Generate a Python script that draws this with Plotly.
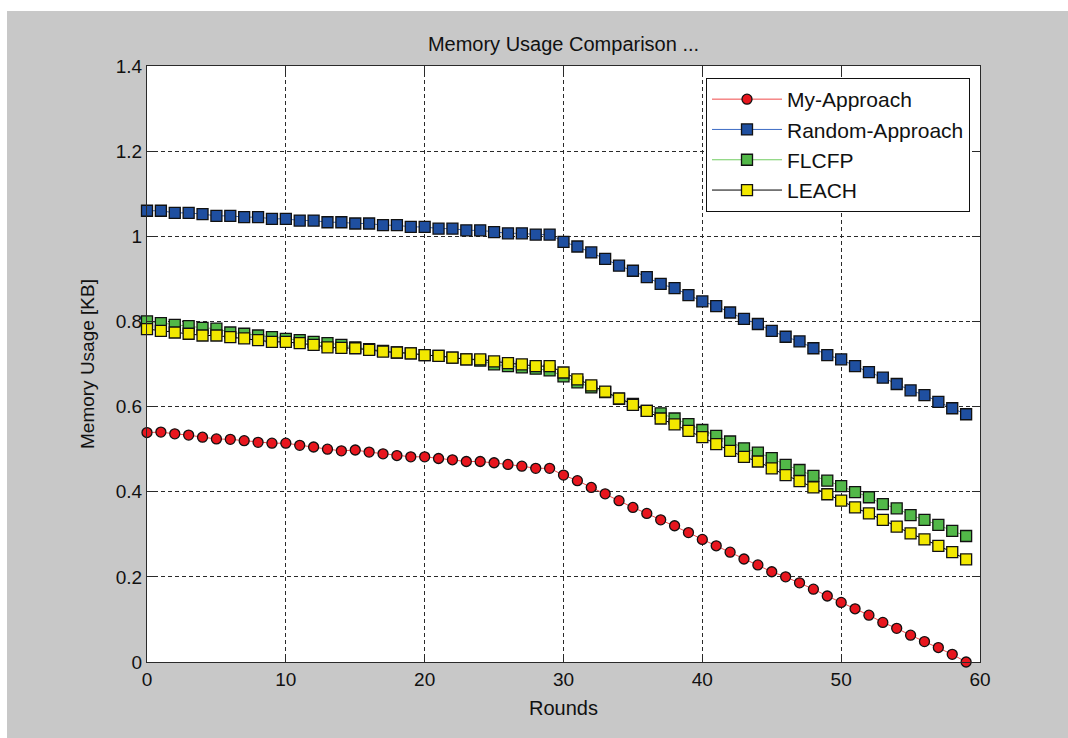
import plotly.graph_objects as go

# Simulation rounds
rounds = list(range(60))

# Memory usage per round [KB]
my_approach = [0.539, 0.540, 0.536, 0.533, 0.528, 0.524, 0.523, 0.520, 0.516, 0.514,
               0.514, 0.509, 0.505, 0.500, 0.496, 0.498, 0.493, 0.489, 0.485, 0.482,
               0.482, 0.478, 0.475, 0.471, 0.471, 0.468, 0.464, 0.460, 0.455, 0.455,
               0.439, 0.426, 0.410, 0.395, 0.379, 0.363, 0.349, 0.334, 0.320, 0.304,
               0.288, 0.273, 0.258, 0.242, 0.228, 0.212, 0.200, 0.186, 0.171, 0.155,
               0.140, 0.125, 0.110, 0.093, 0.079, 0.063, 0.048, 0.034, 0.018, 0.000]

random_approach = [1.060, 1.060, 1.055, 1.055, 1.052, 1.048, 1.048, 1.045, 1.045, 1.041,
                   1.041, 1.037, 1.037, 1.033, 1.033, 1.030, 1.030, 1.026, 1.026, 1.022,
                   1.022, 1.018, 1.018, 1.014, 1.014, 1.010, 1.007, 1.007, 1.004, 1.004,
                   0.987, 0.976, 0.962, 0.947, 0.931, 0.919, 0.904, 0.888, 0.878, 0.862,
                   0.847, 0.836, 0.821, 0.806, 0.794, 0.778, 0.764, 0.753, 0.737, 0.721,
                   0.711, 0.695, 0.681, 0.668, 0.653, 0.638, 0.627, 0.611, 0.596, 0.582]

flcfp = [0.800, 0.796, 0.792, 0.789, 0.785, 0.783, 0.774, 0.771, 0.767, 0.763,
         0.759, 0.756, 0.752, 0.749, 0.745, 0.739, 0.735, 0.731, 0.727, 0.725,
         0.721, 0.719, 0.715, 0.711, 0.708, 0.699, 0.695, 0.692, 0.689, 0.685,
         0.671, 0.657, 0.645, 0.634, 0.618, 0.606, 0.590, 0.584, 0.572, 0.559,
         0.545, 0.531, 0.518, 0.502, 0.492, 0.479, 0.463, 0.451, 0.437, 0.426,
         0.413, 0.399, 0.387, 0.371, 0.361, 0.345, 0.334, 0.322, 0.308, 0.296]

leach = [0.782, 0.778, 0.774, 0.771, 0.767, 0.767, 0.763, 0.760, 0.756, 0.752,
         0.752, 0.749, 0.745, 0.739, 0.738, 0.737, 0.733, 0.729, 0.727, 0.725,
         0.721, 0.719, 0.715, 0.711, 0.711, 0.706, 0.702, 0.699, 0.695, 0.695,
         0.680, 0.664, 0.650, 0.635, 0.619, 0.604, 0.590, 0.572, 0.558, 0.543,
         0.528, 0.512, 0.496, 0.482, 0.471, 0.455, 0.439, 0.425, 0.410, 0.394,
         0.379, 0.363, 0.349, 0.334, 0.318, 0.302, 0.288, 0.273, 0.258, 0.241]

series = [
    ("My-Approach", my_approach, "circle", 10, "#e8161e", "#f04a4a"),
    ("Random-Approach", random_approach, "square", 11, "#1f4fa0", "#3d6cc4"),
    ("FLCFP", flcfp, "square", 11, "#52b848", "#72cc62"),
    ("LEACH", leach, "square", 11, "#f2e800", "#000000"),
]

FONT = "Liberation Sans, Arial, sans-serif"

fig = go.Figure()
for i, (name, vals, symbol, size, fill, line_col) in enumerate(series):
    fig.add_trace(go.Scatter(
        x=rounds, y=vals, name=name, mode="lines+markers",
        legendgroup=f"g{i}",
        line=dict(color=line_col, width=1),
        marker=dict(symbol=symbol, size=size, color=fill,
                    line=dict(color="#111111", width=1.3)),
        cliponaxis=False,
    ))

axis_common = dict(
    showline=True, linecolor="#2a2a2a", linewidth=1, mirror="ticks",
    ticks="inside", ticklen=8, tickcolor="#2a2a2a", tickwidth=1,
    showgrid=True, gridcolor="#2a2a2a", gridwidth=1, griddash="4px,3px",
    zeroline=False,
    tickfont=dict(family=FONT, size=19, color="#111111"),
)

fig.update_xaxes(range=[0, 60], tickvals=[0, 10, 20, 30, 40, 50, 60],
                 title=dict(text="Rounds", font=dict(family=FONT, size=20, color="#111111"),
                            standoff=12),
                 **axis_common)
fig.update_yaxes(range=[0, 1.4], tickvals=[0, 0.2, 0.4, 0.6, 0.8, 1.0, 1.2, 1.4],
                 ticktext=["0", "0.2", "0.4", "0.6", "0.8", "1", "1.2", "1.4"],
                 title=dict(text="Memory Usage [KB]", font=dict(family=FONT, size=19, color="#111111"),
                            standoff=16),
                 **axis_common)

# Plot area spans pixels x 147..980 and y 66..662
W, H = 1068, 738
L, R, T, B = 147, 980, 66, 662


def px_x(p):
    return (p - L) / (R - L)


def px_y(p):
    return (B - p) / (B - T)


fig.update_layout(
    width=W, height=H,
    margin=dict(l=L, r=W - R, t=T, b=H - B, pad=0),
    paper_bgcolor="#c8c8c8",
    plot_bgcolor="#ffffff",
    font=dict(family=FONT, color="#111111"),
    title=dict(text="Memory Usage Comparison ...", x=0.5, xref="paper",
               xanchor="center", y=1 - 44 / H, yanchor="middle",
               font=dict(family=FONT, size=20, color="#111111")),
    showlegend=True,
    legend=dict(x=px_x(970), y=px_y(78), xanchor="right", yanchor="top",
                bgcolor="#ffffff", bordercolor="#111111", borderwidth=1,
                font=dict(family=FONT, size=21, color="#111111"),
                itemwidth=70, tracegroupgap=0),
    shapes=[
        # white page strips outside the grey figure window
        dict(type="rect", xref="paper", yref="paper", layer="below",
             x0=px_x(-5), x1=px_x(7), y0=px_y(745), y1=px_y(-5),
             fillcolor="#ffffff", line=dict(width=0)),
        dict(type="rect", xref="paper", yref="paper", layer="below",
             x0=px_x(-5), x1=px_x(1075), y0=px_y(11), y1=px_y(-5),
             fillcolor="#ffffff", line=dict(width=0)),
    ],
)

fig.write_html("out.html")
